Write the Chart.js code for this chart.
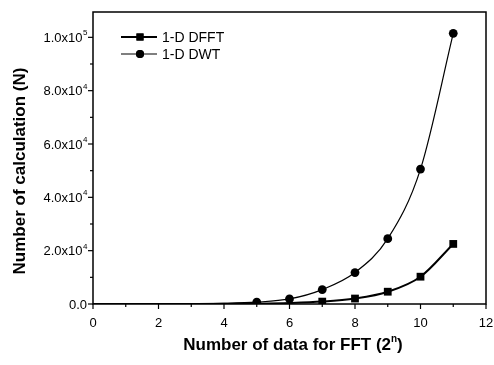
<!DOCTYPE html>
<html lang="en">
<head>
    <meta charset="UTF-8">
    <title>DFFT vs DWT</title>
    <style>
        body {
            margin: 0;
            background: #fff;
        }
        .wrap {
            width: 494px;
            height: 365px;
        }
    </style>
</head>
<body>
    <div class="wrap">
        <canvas id="chart" width="494" height="365"></canvas>
    </div>
    <script src="https://cdn.jsdelivr.net/npm/chart.js"></script>
    <script>
        // data
        const nValues = [0, 1, 2, 3, 4, 5, 6, 7, 8, 9, 10, 11];
        const dfft = [0, 2, 8, 24, 64, 160, 384, 896, 2048, 4608, 10240, 22528];
        const dwt = [0, 10, 40, 100, 250, 700, 1900, 5400, 11800, 24500, 50600, 101500];
        const seriesNames = ['1-D DFFT', '1-D DWT'];

        const xTicks = [0, 2, 4, 6, 8, 10, 12];
        const yTicks = [0, 20000, 40000, 60000, 80000, 100000];
        const yTickMantissa = ['0.0', '2.0', '4.0', '6.0', '8.0', '1.0'];
        const yTickExponent = ['', '4', '4', '4', '4', '5'];

        const FONT = '"Liberation Sans", Arial, sans-serif';

        function toPoints(ys) {
            return nValues.map((n, i) => ({ x: n, y: ys[i] }));
        }

        const axesPlugin = {
            id: 'axesPlugin',
            afterDraw(chart) {
                const ctx = chart.ctx;
                const area = chart.chartArea;
                const xs = chart.scales.x;
                const ys = chart.scales.y;
                ctx.save();
                ctx.strokeStyle = '#000';
                ctx.fillStyle = '#000';

                // frame
                ctx.lineWidth = 1.5;
                ctx.strokeRect(area.left, area.top, area.right - area.left, area.bottom - area.top);

                // x ticks (major + minor)
                ctx.lineWidth = 1.2;
                for (let v = 0; v <= 12; v++) {
                    const px = xs.getPixelForValue(v);
                    const len = v % 2 === 0 ? 5 : 3;
                    ctx.beginPath();
                    ctx.moveTo(px, area.bottom);
                    ctx.lineTo(px, area.bottom + len);
                    ctx.stroke();
                }
                // y ticks
                for (let v = 0; v <= 100000; v += 10000) {
                    const py = ys.getPixelForValue(v);
                    const len = v % 20000 === 0 ? 5 : 3;
                    ctx.beginPath();
                    ctx.moveTo(area.left, py);
                    ctx.lineTo(area.left - len, py);
                    ctx.stroke();
                }

                // x tick labels
                ctx.font = '13px ' + FONT;
                ctx.textAlign = 'center';
                ctx.textBaseline = 'alphabetic';
                xTicks.forEach(v => {
                    ctx.fillText(String(v), xs.getPixelForValue(v), area.bottom + 23);
                });

                // y tick labels with superscripts
                yTicks.forEach((v, i) => {
                    const py = ys.getPixelForValue(v);
                    const right = area.left - 6;
                    ctx.textAlign = 'left';
                    if (yTickExponent[i]) {
                        ctx.font = '8px ' + FONT;
                        const ew = ctx.measureText(yTickExponent[i]).width;
                        ctx.font = '13px ' + FONT;
                        const main = yTickMantissa[i] + 'x10';
                        const mw = ctx.measureText(main).width;
                        const x0 = right - ew - mw;
                        ctx.fillText(main, x0, py + 4.5);
                        ctx.font = '8px ' + FONT;
                        ctx.fillText(yTickExponent[i], x0 + mw + 0.5, py - 2);
                    } else {
                        ctx.font = '13px ' + FONT;
                        const mw = ctx.measureText(yTickMantissa[i]).width;
                        ctx.fillText(yTickMantissa[i], right - mw, py + 4.5);
                    }
                });

                // x axis title with superscript n
                const tf = 'bold 17px ' + FONT;
                const sf = 'bold 10px ' + FONT;
                ctx.font = tf;
                const t1 = 'Number of data for FFT (2';
                const t2 = ')';
                const w1 = ctx.measureText(t1).width;
                const w2 = ctx.measureText(t2).width;
                ctx.font = sf;
                const wn = ctx.measureText('n').width;
                const total = w1 + wn + w2;
                const tx = 293 - total / 2;
                const ty = 350;
                ctx.font = tf;
                ctx.fillText(t1, tx, ty);
                ctx.font = sf;
                ctx.fillText('n', tx + w1, ty - 8);
                ctx.font = tf;
                ctx.fillText(t2, tx + w1 + wn, ty);

                // y axis title
                ctx.save();
                ctx.translate(25, 171);
                ctx.rotate(-Math.PI / 2);
                ctx.textAlign = 'center';
                ctx.font = tf;
                ctx.fillText('Number of calculation (N)', 0, 0);
                ctx.restore();

                // legend
                const legendRows = [
                    { y: 37, width: 2, style: 'rect', r: 5 },
                    { y: 54, width: 1.2, style: 'circle', r: 4 }
                ];
                legendRows.forEach((row, i) => {
                    ctx.lineWidth = row.width;
                    ctx.beginPath();
                    ctx.moveTo(121, row.y);
                    ctx.lineTo(157, row.y);
                    ctx.stroke();
                    Chart.helpers.drawPoint(ctx, { pointStyle: row.style, radius: row.r, rotation: 0, borderWidth: 0 }, 140, row.y);
                    ctx.fill();
                    ctx.font = '14px ' + FONT;
                    ctx.textAlign = 'left';
                    ctx.fillText(seriesNames[i], 162, row.y + 5);
                });

                ctx.restore();
            }
        };

        new Chart(document.getElementById('chart'), {
            type: 'line',
            data: {
                datasets: [
                    {
                        label: seriesNames[0],
                        data: toPoints(dfft),
                        borderColor: '#000',
                        backgroundColor: '#000',
                        borderWidth: 2,
                        cubicInterpolationMode: 'monotone',
                        pointStyle: 'rect',
                        pointRadius: c => (c.raw && c.raw.x >= 7 ? 5.5 : 0),
                        pointBorderWidth: 0
                    },
                    {
                        label: seriesNames[1],
                        data: toPoints(dwt),
                        borderColor: '#000',
                        backgroundColor: '#000',
                        borderWidth: 1.2,
                        cubicInterpolationMode: 'monotone',
                        pointStyle: 'circle',
                        pointRadius: c => (c.raw && c.raw.x >= 5 ? 4.4 : 0),
                        pointBorderWidth: 0
                    }
                ]
            },
            options: {
                responsive: false,
                animation: false,
                layout: {
                    padding: { left: 93, right: 8, top: 12, bottom: 61 }
                },
                plugins: {
                    legend: { display: false },
                    tooltip: { enabled: false }
                },
                scales: {
                    x: { type: 'linear', min: 0, max: 12, display: false },
                    y: { min: 0, max: 109500, display: false }
                }
            },
            plugins: [axesPlugin]
        });
    </script>
</body>
</html>
